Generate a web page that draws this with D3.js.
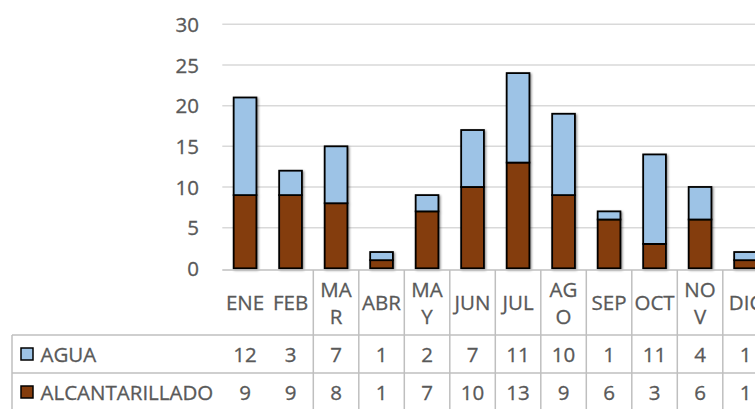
<!DOCTYPE html>
<html>
<head>
<meta charset="utf-8">
<script src="https://cdn.jsdelivr.net/npm/d3@7"></script>
<style>
  html, body { margin: 0; padding: 0; background: #fff; overflow: hidden; }
  svg { display: block; font-family: "Open Sans", sans-serif; }
</style>
</head>
<body>
<svg id="chart" width="755" height="409"></svg>
<script>
// Monthly counts per service
const months = ["ENE", "FEB", "MAR", "ABR", "MAY", "JUN", "JUL", "AGO", "SEP", "OCT", "NOV", "DIC"];
const agua = [12, 3, 7, 1, 2, 7, 11, 10, 1, 11, 4, 1];
const alcantarillado = [9, 9, 8, 1, 7, 10, 13, 9, 6, 3, 6, 1];
const yTicks = [0, 5, 10, 15, 20, 25, 30];
const seriesNames = ["AGUA", "ALCANTARILLADO"];
const seriesColors = ["#9DC3E6", "#843C0C"];

const svg = d3.select("#chart");
const textColor = "#595959";
const fontSize = 20.5;

// Layout
const plotLeft = 222.3, colW = 45.5;
const plotRight = plotLeft + colW * months.length;
const yTop = 24.3, yBottom = 268.3;
const headerTop = 270, row1Top = 335, row2Top = 373, row2Bottom = 411;
const tableLeft = 12;

const x = d3.scaleBand().domain(months).range([plotLeft, plotRight]).padding(0);
const xBar = d3.scaleBand().domain(months).range([plotLeft, plotRight])
  .paddingInner(0.5).paddingOuter(0.25);
const y = d3.scaleLinear().domain([0, 30]).range([yBottom, yTop]);

// Shadow for the columns
const defs = svg.append("defs");
const f = defs.append("filter").attr("id", "shadow")
  .attr("x", "-20%").attr("y", "-20%").attr("width", "140%").attr("height", "140%");
f.append("feDropShadow").attr("dx", 1.2).attr("dy", 1.2)
  .attr("stdDeviation", 1.3).attr("flood-color", "#000").attr("flood-opacity", 0.45);

// Gridlines
svg.append("g").selectAll("line").data(yTicks.filter(t => t > 0)).join("line")
  .attr("x1", plotLeft).attr("x2", plotRight)
  .attr("y1", d => y(d)).attr("y2", d => y(d))
  .attr("stroke", "#D9D9D9").attr("stroke-width", 1.5);

// Y axis labels
const yAxis = d3.axisLeft(y).tickValues(yTicks).tickSize(0).tickPadding(0);
const yg = svg.append("g").attr("transform", `translate(199,0)`).call(yAxis);
yg.select(".domain").remove();
yg.selectAll("text")
  .attr("font-family", "Open Sans").attr("font-size", fontSize)
  .attr("fill", textColor).attr("stroke", textColor).attr("stroke-width", 0.3)
  .attr("dy", "0.35em");

// Stacked columns
const rows = months.map((m, i) => ({ month: m, AGUA: agua[i], ALCANTARILLADO: alcantarillado[i] }));
const stack = d3.stack().keys(["ALCANTARILLADO", "AGUA"])(rows);
const colorOf = { AGUA: seriesColors[0], ALCANTARILLADO: seriesColors[1] };

const bars = svg.append("g").attr("filter", "url(#shadow)");
bars.selectAll("g").data(stack).join("g")
  .attr("fill", d => colorOf[d.key])
  .selectAll("rect").data(d => d).join("rect")
  .attr("x", d => xBar(d.data.month))
  .attr("width", xBar.bandwidth())
  .attr("y", d => y(d[1]))
  .attr("height", d => y(d[0]) - y(d[1]))
  .attr("stroke", "#000").attr("stroke-width", 1.8);

// Axis line / table top
svg.append("line")
  .attr("x1", plotLeft).attr("x2", plotRight)
  .attr("y1", headerTop).attr("y2", headerTop)
  .attr("stroke", "#BFBFBF").attr("stroke-width", 1.5);

// Data table lines
const tableLines = svg.append("g").attr("stroke", "#BFBFBF").attr("stroke-width", 1.5);
[row1Top, row2Top].forEach(yy => {
  tableLines.append("line").attr("x1", tableLeft).attr("x2", plotRight)
    .attr("y1", yy).attr("y2", yy);
});
tableLines.append("line").attr("x1", tableLeft).attr("x2", tableLeft)
  .attr("y1", row1Top).attr("y2", row2Bottom);
tableLines.selectAll("line.col").data(months.slice(2)).join("line")
  .attr("class", "col")
  .attr("x1", d => x(d)).attr("x2", d => x(d))
  .attr("y1", headerTop).attr("y2", row2Bottom);

// Category header with wrapping inside each column
const header = svg.append("g")
  .attr("font-family", "Open Sans").attr("font-size", fontSize)
  .attr("fill", textColor).attr("stroke", textColor).attr("stroke-width", 0.3)
  .attr("text-anchor", "middle");
const maxW = colW - 3;
const lineH = 27;
const measure = header.append("text").attr("opacity", 0);
function wrapLabel(label) {
  const lines = [];
  let cur = "";
  for (const ch of label) {
    measure.text(cur + ch);
    if (cur && measure.node().getComputedTextLength() > maxW) {
      lines.push(cur);
      cur = ch;
    } else {
      cur += ch;
    }
  }
  if (cur) lines.push(cur);
  return lines;
}
months.forEach(m => {
  const lines = wrapLabel(m);
  const cx = x(m) + colW / 2;
  const first = 310 - (lines.length - 1) * lineH / 2;
  const t = header.append("text");
  lines.forEach((ln, i) => {
    t.append("tspan").attr("x", cx).attr("y", first + i * lineH).text(ln);
  });
});
measure.remove();

// Table rows: legend key + values
const tableData = [agua, alcantarillado];
const baselines = [361.5, 399.5];
const table = svg.append("g")
  .attr("font-family", "Open Sans").attr("font-size", fontSize)
  .attr("fill", textColor).attr("stroke", textColor).attr("stroke-width", 0.3);
seriesNames.forEach((name, r) => {
  table.append("rect")
    .attr("x", 21).attr("y", baselines[r] - 13.5)
    .attr("width", 12).attr("height", 12)
    .attr("fill", seriesColors[r]).attr("stroke", "#000").attr("stroke-width", 1.5);
  table.append("text").attr("x", 40.5).attr("y", baselines[r]).text(name);
  table.append("g").attr("text-anchor", "middle")
    .selectAll("text").data(tableData[r]).join("text")
    .attr("x", (d, i) => x(months[i]) + colW / 2)
    .attr("y", baselines[r])
    .text(d => d);
});
</script>
</body>
</html>
